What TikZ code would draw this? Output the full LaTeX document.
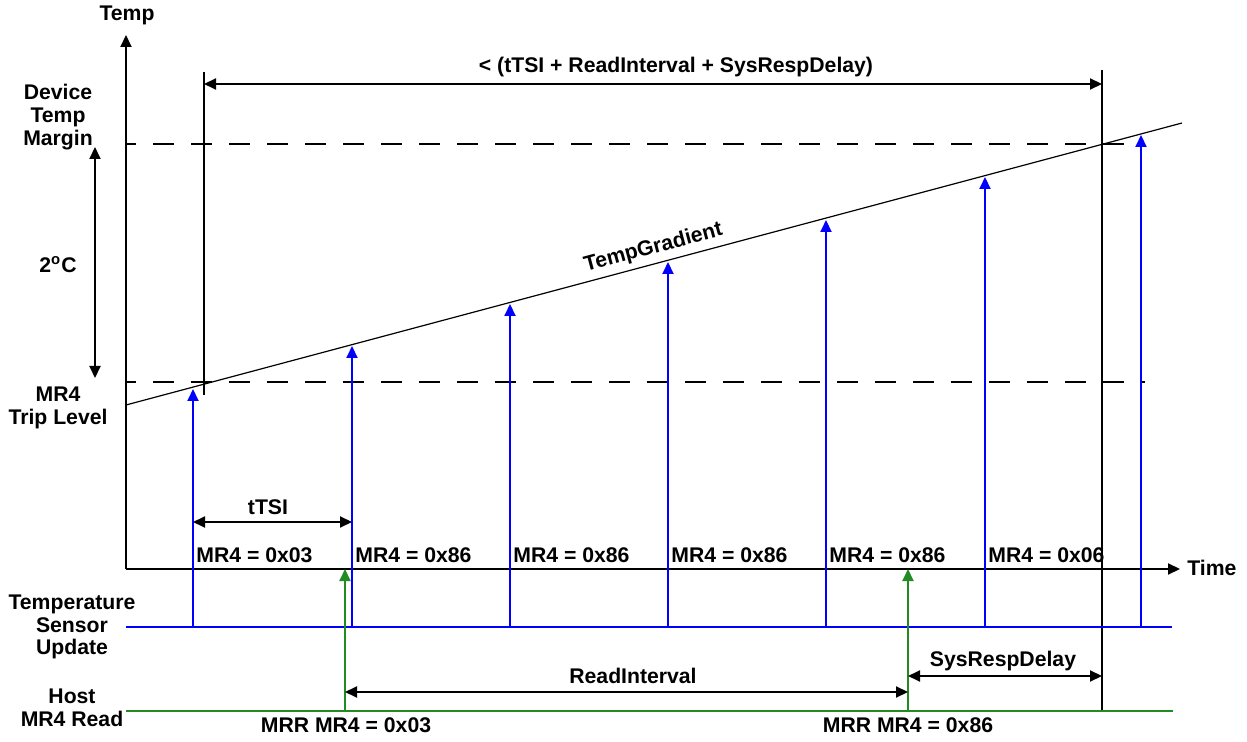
\documentclass[tikz,border=0pt]{standalone}
\usepackage{fontspec}
\setmainfont{Liberation Sans}
\usetikzlibrary{arrows.meta}
\definecolor{hostgreen}{RGB}{34,139,34}
\begin{document}
\begin{tikzpicture}[x=0.5pt,y=-0.5pt,
  font=\bfseries\fontsize{10.6}{11.4}\selectfont,
  lbl/.style={inner sep=0pt, align=center},
  tipend/.style={-{Triangle[length=6pt,width=5.5pt]}},
  dtip/.style={{Triangle[length=6pt,width=5.5pt]}-{Triangle[length=6pt,width=5.5pt]}},
  axisline/.style={line width=1pt},
  sensline/.style={blue, line width=1pt},
  hostline/.style={hostgreen, line width=1pt},
  dashline/.style={line width=1pt, dash pattern=on 10.5pt off 8.5pt, dash phase=5.5pt},
  gradline/.style={line width=0.6pt}]
\useasboundingbox (0,0) rectangle (1247,742);
% axes
\coordinate (O) at (126,569);
\coordinate (Ytop) at (126,35);
\coordinate (Xend) at (1180,569);
\draw[axisline,tipend] (O) -- (Ytop);
\draw[axisline,tipend] (O) -- (Xend);
\node[lbl] (temp) at (127,15) {Temp};
\node[lbl,anchor=west] (time) at (1187,568) {Time};
% dashed levels
\coordinate (dtA) at (126,144); \coordinate (dtB) at (1145,144);
\coordinate (dbA) at (126,382); \coordinate (dbB) at (1145,382);
\draw[dashline] (dtA) -- (dtB);
\draw[dashline] (dbA) -- (dbB);
% gradient
\coordinate (gA) at (126,405); \coordinate (gB) at (1182,123);
\draw[gradline] (gA) -- (gB);
\node[lbl,rotate=15,anchor=south] (grad) at (656,258) {TempGradient};
% black verticals
\coordinate (v1t) at (204,72); \coordinate (v1b) at (204,395);
\coordinate (v2t) at (1102,70); \coordinate (v2b) at (1102,711);
\draw[axisline] (v1t) -- (v1b);
\draw[axisline] (v2t) -- (v2b);
\coordinate (topA) at (204,84); \coordinate (topB) at (1102,84);
\draw[axisline,dtip] (topA) -- (topB);
\node[lbl] (toplbl) at (676,67) {< (tTSI + ReadInterval + SysRespDelay)};
% 2 C arrow
\coordinate (cA) at (95,147); \coordinate (cB) at (95,378);
\draw[axisline,dtip] (cA) -- (cB);
\node[lbl] (twoC) at (58,265) {2\textsuperscript{o}C};
% left labels
\node[lbl] (dtm) at (58,117) {Device\\Temp\\Margin};
\node[lbl] (trip) at (58,408) {MR4\\Trip Level};
\node[lbl] (tsu) at (72,627) {Temperature\\Sensor\\Update};
\node[lbl] (hmr) at (72,708) {Host\\MR4 Read};
% sensor line and arrows
\coordinate (sA) at (126,627); \coordinate (sB) at (1172,627);
\draw[sensline] (sA) -- (sB);
\foreach \i/\x/\y in {1/193/389, 2/352/346, 3/510/304, 4/668/262, 5/826/220, 6/985/177, 7/1141/135} {
  \coordinate (b\i) at (\x,627);
  \coordinate (t\i) at (\x,\y);
  \draw[sensline,tipend] (b\i) -- (t\i);
}
% MR4 labels
\node[lbl,anchor=west] (m1) at (196,555) {MR4 = 0x03};
\foreach \i/\x in {2/355, 3/513, 4/671, 5/829} {
  \node[lbl,anchor=west] (m\i) at (\x,555) {MR4 = 0x86};
}
\node[lbl,anchor=west] (m6) at (988,555) {MR4 = 0x06};
% tTSI
\coordinate (tsA) at (193,522); \coordinate (tsB) at (352,522);
\draw[axisline,dtip] (tsA) -- (tsB);
\node[lbl] (ttsi) at (268,507) {tTSI};
% host line and arrows
\coordinate (hA) at (126,711); \coordinate (hB) at (1173,711);
\draw[hostline] (hA) -- (hB);
\coordinate (g1b) at (345,711); \coordinate (g1t) at (345,569);
\coordinate (g2b) at (908,711); \coordinate (g2t) at (908,569);
\draw[hostline,tipend] (g1b) -- (g1t);
\draw[hostline,tipend] (g2b) -- (g2t);
\node[lbl] (mrr1) at (346,725) {MRR MR4 = 0x03};
\node[lbl] (mrr2) at (908,725) {MRR MR4 = 0x86};
% ReadInterval
\coordinate (riA) at (345,692); \coordinate (riB) at (908,692);
\draw[axisline,dtip] (riA) -- (riB);
\node[lbl] (ri) at (633,676) {ReadInterval};
% SysRespDelay
\coordinate (srA) at (908,676); \coordinate (srB) at (1102,676);
\draw[axisline,dtip] (srA) -- (srB);
\node[lbl] (sr) at (1003,661) {SysRespDelay};
\end{tikzpicture}
\end{document}
